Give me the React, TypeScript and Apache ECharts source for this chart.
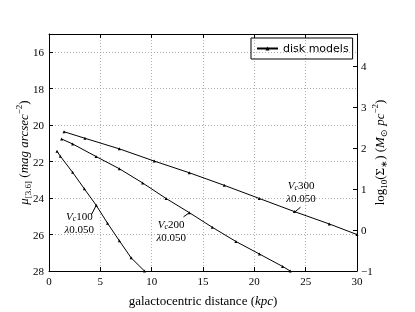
import React, { useEffect, useRef } from "react";
import * as echarts from "echarts";

// ---- data ----
const xV100 = [0.78, 1.1, 2.3, 3.44, 4.6, 5.7, 6.85, 8.0, 9.3];
const muV100 = [21.43, 21.7, 22.59, 23.49, 24.4, 25.38, 26.34, 27.28, 28.0];

const xV200 = [1.23, 2.3, 4.58, 6.85, 9.12, 11.4, 13.67, 15.9, 18.2, 20.5, 22.75, 23.5];
const muV200 = [20.76, 21.03, 21.72, 22.39, 23.17, 24.02, 24.8, 25.6, 26.38, 27.07, 27.75, 28.0];

const xV300 = [1.46, 3.5, 6.85, 10.25, 13.66, 17.07, 20.48, 23.9, 27.3, 30.0];
const muV300 = [20.36, 20.72, 21.3, 21.97, 22.61, 23.3, 24.02, 24.74, 25.42, 26.0];

const seriesName = "disk models";

// annotations: label anchor (x, mu), leader start (x, mu), leader end (x, mu)
const annotationVc = ["100", "200", "300"];
const annotationLambda = ["0.050", "0.050", "0.050"];
const annotationAnchor = [[2.95, 25.34], [11.9, 25.77], [24.55, 23.62]];
const leaderFrom = [[4.12, 24.92], [13.1, 25.03], [24.5, 24.5]];
const leaderTo = [[4.6, 24.4], [13.67, 24.8], [23.95, 24.76]];

const SERIF = "Liberation Serif";

function pairs(xs: number[], ys: number[]) {
  return xs.map((x, i) => [x, ys[i]]);
}

export default function App() {
  const ref = useRef<HTMLDivElement>(null);
  useEffect(() => {
    if (!ref.current) return;
    const chart = echarts.init(ref.current, undefined, { renderer: "svg" });
    const lineSeries = (xs: number[], ys: number[]) => ({
      type: "line",
      name: seriesName,
      data: pairs(xs, ys),
      xAxisIndex: 0,
      yAxisIndex: 0,
      symbol: "triangle",
      symbolSize: 3,
      showSymbol: true,
      clip: true,
      lineStyle: { color: "#000", width: 1 },
      itemStyle: { color: "#000" },
    });
    const tickStyle = { color: "#000", fontFamily: SERIF, fontSize: 11 };
    const axisLine = { show: true, onZero: false, lineStyle: { color: "#000", width: 1 } };
    const axisTick = { show: true, inside: true, length: 4, lineStyle: { color: "#000" } };
    const grid = { show: true, lineStyle: { color: "#999", type: [1, 2], width: 0.8 } };
    chart.setOption({
      animation: false,
      grid: { left: 49, top: 34, width: 308, height: 239, containLabel: false },
      legend: {
        data: [seriesName],
        left: 251,
        top: 38,
        padding: [5, 4, 5, 5],
        itemWidth: 21,
        itemHeight: 5,
        borderColor: "#000",
        borderWidth: 1,
        textStyle: { fontFamily: "DejaVu Sans", fontSize: 11, color: "#000" },
      },
      xAxis: [
        {
          type: "value",
          min: 0,
          max: 30,
          interval: 5,
          position: "bottom",
          name: "galactocentric distance ({i|kpc})",
          nameLocation: "middle",
          nameGap: 23,
          nameMoveOverlap: false,
          nameTextStyle: {
            fontFamily: SERIF,
            fontSize: 13,
            color: "#000",
            rich: { i: { fontFamily: SERIF, fontSize: 13, fontStyle: "italic", color: "#000" } },
          },
          axisLine,
          axisTick,
          axisLabel: { ...tickStyle, margin: 4 },
          splitLine: grid,
        },
        {
          type: "value",
          min: 0,
          max: 30,
          interval: 5,
          position: "top",
          axisLine,
          axisTick,
          axisLabel: { show: false },
          splitLine: { show: false },
        },
      ],
      yAxis: [
        {
          type: "value",
          inverse: true,
          min: 15,
          max: 28,
          splitNumber: 6,
          position: "left",
          name: "{i|μ}{s|[3.6]} {n|(}{i|mag arcsec}{sup|−2}{n|)}",
          nameLocation: "middle",
          nameGap: 17,
          nameRotate: 90,
          nameMoveOverlap: false,
          nameTextStyle: {
            fontFamily: SERIF,
            fontSize: 13,
            color: "#000",
            rich: {
              i: { fontFamily: SERIF, fontSize: 13, fontStyle: "italic", color: "#000", lineHeight: 18 },
              n: { fontFamily: SERIF, fontSize: 13, color: "#000", lineHeight: 18 },
              s: { fontFamily: SERIF, fontSize: 9, color: "#000", verticalAlign: "bottom" },
              sup: { fontFamily: SERIF, fontSize: 9, color: "#000", verticalAlign: "top" },
            },
          },
          axisLine,
          axisTick,
          axisLabel: { ...tickStyle, margin: 5, showMinLabel: false },
          splitLine: grid,
        },
        {
          type: "value",
          min: -1,
          max: 4.79,
          splitNumber: 5,
          position: "right",
          name: "log{s|10}(Σ{s|∗}) ({i|M}{s|⊙} {i|pc}{sup|−2})",
          nameLocation: "middle",
          nameGap: 13,
          nameRotate: 90,
          nameMoveOverlap: false,
          nameTextStyle: {
            fontFamily: SERIF,
            fontSize: 13,
            color: "#000",
            lineHeight: 18,
            rich: {
              i: { fontFamily: SERIF, fontSize: 13, fontStyle: "italic", color: "#000", lineHeight: 18 },
              s: { fontFamily: SERIF, fontSize: 9, color: "#000", verticalAlign: "bottom" },
              sup: { fontFamily: SERIF, fontSize: 9, color: "#000", verticalAlign: "top" },
            },
          },
          axisLine,
          axisTick,
          axisLabel: {
            ...tickStyle,
            margin: 4,
            showMaxLabel: false,
            formatter: (v: number) => (v < 0 ? "−" + Math.abs(v) : String(v)),
          },
          splitLine: { show: false },
        },
      ],
      series: [lineSeries(xV100, muV100), lineSeries(xV200, muV200), lineSeries(xV300, muV300)],
    });

    const toPx = (p: number[]) => chart.convertToPixel({ xAxisIndex: 0, yAxisIndex: 0 }, p) as number[];
    const graphics: any[] = [];
    annotationVc.forEach((vc, i) => {
      const a = toPx(annotationAnchor[i]);
      const f = toPx(leaderFrom[i]);
      const t = toPx(leaderTo[i]);
      graphics.push({
        type: "text",
        x: a[0],
        y: a[1],
        silent: true,
        style: {
          text: `{i|V}{s|c}{n|${vc}}\n{i|λ}{n|${annotationLambda[i]}}`,
          align: "center",
          verticalAlign: "middle",
          fill: "#000",
          fontFamily: SERIF,
          fontSize: 11,
          lineHeight: 13,
          rich: {
            i: { fontFamily: SERIF, fontSize: 11, fontStyle: "italic", fill: "#000", lineHeight: 13 },
            n: { fontFamily: SERIF, fontSize: 11, fill: "#000", lineHeight: 13 },
            s: { fontFamily: SERIF, fontSize: 8, fontStyle: "italic", fill: "#000", verticalAlign: "bottom" },
          },
        },
      });
      graphics.push({
        type: "line",
        silent: true,
        shape: { x1: f[0], y1: f[1], x2: t[0], y2: t[1] },
        style: { stroke: "#000", lineWidth: 1 },
      });
    });
    chart.setOption({ graphic: graphics });

    return () => chart.dispose();
  }, []);
  return <div ref={ref} style={{ position: "fixed", left: 0, top: 0, width: 415, height: 312 }} />;
}
